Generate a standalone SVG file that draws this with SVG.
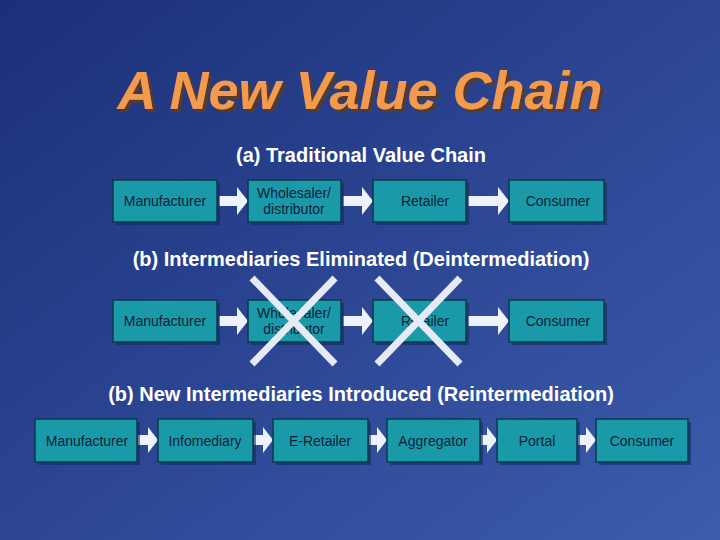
<svg xmlns="http://www.w3.org/2000/svg" width="720" height="540" viewBox="0 0 720 540">
<defs>
<linearGradient id="bg" x1="0" y1="0" x2="1" y2="1">
<stop offset="0" stop-color="#1c2f78"/><stop offset="1" stop-color="#3c5cad"/>
</linearGradient>
<filter id="sh" x="-10%" y="-20%" width="120%" height="150%"><feDropShadow dx="3" dy="3" stdDeviation="0.5" flood-color="#5a3a2a" flood-opacity="0.9"/></filter>
<style>
.b{fill:#1a9aa8;stroke:#0b3a4a;stroke-width:1.5}
.s{fill:#102a66;opacity:0.6}
.t{font-family:"Liberation Sans",Arial,sans-serif;font-size:14px;fill:#0c1e38;text-anchor:middle}
.h{font-family:"Liberation Sans",Arial,sans-serif;font-size:20px;font-weight:bold;fill:#fff;text-anchor:middle}
.a{fill:#eef2ff}
.x{stroke:#e6eaf5;stroke-width:7}
</style>
</defs>
<rect width="720" height="540" fill="url(#bg)"/>
<text x="360" y="109" filter="url(#sh)" font-family="Liberation Sans,Arial,sans-serif" font-size="54" font-weight="bold" font-style="italic" text-anchor="middle" fill="#f39a4e">A New Value Chain</text>
<text class="h" x="361" y="162">(a) Traditional Value Chain</text>
<text class="h" x="361" y="266">(b) Intermediaries Eliminated (Deintermediation)</text>
<text class="h" x="361" y="401">(b) New Intermediaries Introduced (Reintermediation)</text>
<g id="connectors">
<path class="a" d="M219 196h18v-9l11 14l-11 14v-9h-18z"/>
<path class="a" d="M343 196h19v-9l11 14l-11 14v-9h-19z"/>
<path class="a" d="M468 196h30v-9l11 14l-11 14v-9h-30z"/>
<path class="a" d="M219 316h18v-9l11 14l-11 14v-9h-18z"/>
<path class="a" d="M343 316h19v-9l11 14l-11 14v-9h-19z"/>
<path class="a" d="M468 316h30v-9l11 14l-11 14v-9h-30z"/>
<path class="a" d="M138 435h10v-8l10 13l-10 13v-8h-10z"/>
<path class="a" d="M254 435h9v-8l10 13l-10 13v-8h-9z"/>
<path class="a" d="M369 435h8v-8l10 13l-10 13v-8h-8z"/>
<path class="a" d="M481 435h6v-8l10 13l-10 13v-8h-6z"/>
<path class="a" d="M578 435h8v-8l10 13l-10 13v-8h-8z"/>
</g>
<g id="r1">
<g id="a-man"><rect class="s" x="116" y="183" width="104" height="42"/><rect class="b" x="113" y="180" width="104" height="42"/><text class="t" x="165" y="206">Manufacturer</text></g>
<g id="a-who"><rect class="s" x="251" y="183" width="93" height="42"/><rect class="b" x="248" y="180" width="93" height="42"/><text class="t" x="294" y="198">Wholesaler/</text><text class="t" x="294" y="214">distributor</text></g>
<g id="a-ret"><rect class="s" x="376" y="183" width="93" height="42"/><rect class="b" x="373" y="180" width="93" height="42"/><text class="t" x="425" y="206">Retailer</text></g>
<g id="a-con"><rect class="s" x="512" y="183" width="95" height="42"/><rect class="b" x="509" y="180" width="95" height="42"/><text class="t" x="558" y="206">Consumer</text></g>
</g>
<g id="r2">
<g id="b-man"><rect class="s" x="116" y="303" width="104" height="42"/><rect class="b" x="113" y="300" width="104" height="42"/><text class="t" x="165" y="326">Manufacturer</text></g>
<g id="b-who"><rect class="s" x="251" y="303" width="93" height="42"/><rect class="b" x="248" y="300" width="93" height="42"/><text class="t" x="294" y="318">Wholesaler/</text><text class="t" x="294" y="334">distributor</text><path class="x" d="M252 278L335 364M335 278L252 364"/></g>
<g id="b-ret"><rect class="s" x="376" y="303" width="93" height="42"/><rect class="b" x="373" y="300" width="93" height="42"/><text class="t" x="425" y="326">Retailer</text><path class="x" d="M377 278L460 364M460 278L377 364"/></g>
<g id="b-con"><rect class="s" x="512" y="303" width="95" height="42"/><rect class="b" x="509" y="300" width="95" height="42"/><text class="t" x="558" y="326">Consumer</text></g>
</g>
<g id="r3">
<g id="c1"><rect class="s" x="38" y="422" width="102" height="43"/><rect class="b" x="35" y="419" width="102" height="43"/><text class="t" x="87" y="446">Manufacturer</text></g>
<g id="c2"><rect class="s" x="161" y="422" width="95" height="43"/><rect class="b" x="158" y="419" width="95" height="43"/><text class="t" x="205" y="446">Infomediary</text></g>
<g id="c3"><rect class="s" x="276" y="422" width="95" height="43"/><rect class="b" x="273" y="419" width="95" height="43"/><text class="t" x="320" y="446">E-Retailer</text></g>
<g id="c4"><rect class="s" x="390" y="422" width="93" height="43"/><rect class="b" x="387" y="419" width="93" height="43"/><text class="t" x="433" y="446">Aggregator</text></g>
<g id="c5"><rect class="s" x="500" y="422" width="80" height="43"/><rect class="b" x="497" y="419" width="80" height="43"/><text class="t" x="537" y="446">Portal</text></g>
<g id="c6"><rect class="s" x="599" y="422" width="92" height="43"/><rect class="b" x="596" y="419" width="92" height="43"/><text class="t" x="642" y="446">Consumer</text></g>
</g>
</svg>
